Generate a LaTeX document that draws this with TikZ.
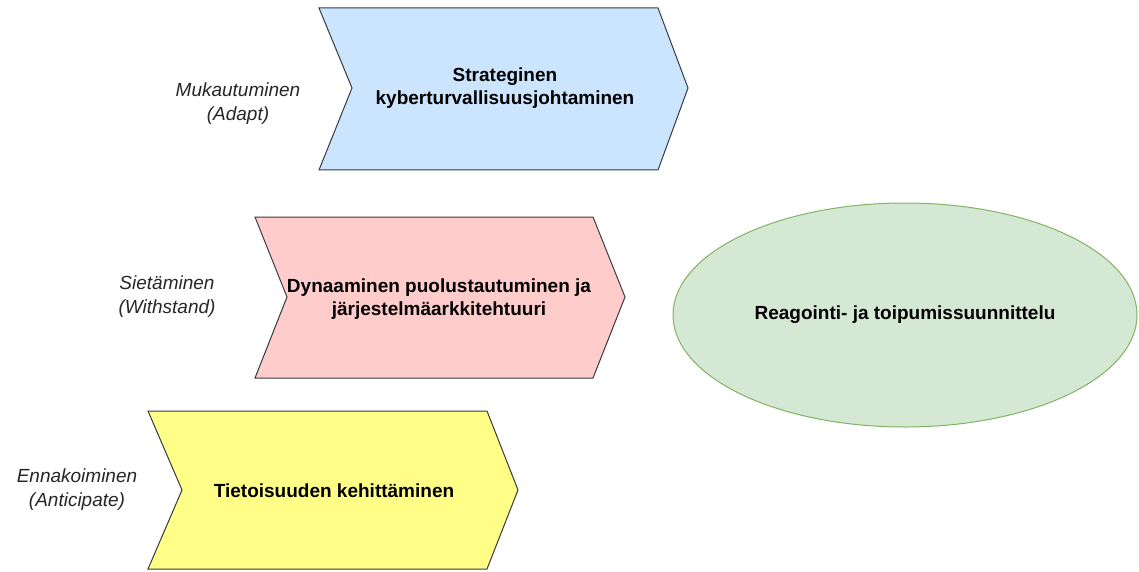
\documentclass[tikz,border=0pt]{standalone}
\usepackage{fontspec}
\setmainfont{Liberation Sans}
\usetikzlibrary{shapes.geometric}
\definecolor{cblue}{HTML}{CCE5FF}
\definecolor{cpink}{HTML}{FFCCCC}
\definecolor{cyellow}{HTML}{FFFF88}
\definecolor{cgreen}{HTML}{D5E8D4}
\definecolor{cgreenline}{HTML}{82B366}
\definecolor{cline}{HTML}{36393D}
\begin{document}
\begin{tikzpicture}[x=1pt,y=-1pt,
  chev/.style={draw=cline, line width=1pt, line join=miter},
  boldtext/.style={font=\fontsize{19}{23}\selectfont\bfseries, align=center, text=black, inner sep=0pt},
  sidelabel/.style={font=\fontsize{19}{24}\selectfont\itshape, align=center, text=black!85, inner sep=0pt}]
\useasboundingbox (0,0) rectangle (1139,572);
% blue chevron
\path[chev, fill=cblue] (319,8) -- (658,8) -- (688,88) -- (658,170) -- (319,170) -- (352,88) -- cycle;
\node[boldtext] (strat) at (505,88) {Strateginen\\kyberturvallisuusjohtaminen};
% pink chevron
\path[chev, fill=cpink] (255,217) -- (593,217) -- (625,297) -- (593,378) -- (255,378) -- (287,297) -- cycle;
\node[boldtext] (dyn) at (439,299) {Dynaaminen puolustautuminen ja\\järjestelmäarkkitehtuuri};
% yellow chevron
\path[chev, fill=cyellow] (148,411) -- (487,411) -- (518,490) -- (487,569) -- (148,569) -- (182,490) -- cycle;
\node[boldtext] (tiet) at (334,491) {Tietoisuuden kehittäminen};
% ellipse
\node[draw=cgreenline, fill=cgreen, line width=1pt, ellipse, minimum width=464pt, minimum height=224pt, boldtext] (reag) at (905,315) {Reagointi- ja toipumissuunnittelu};
% side labels
\node[sidelabel] (adapt) at (238,104) {Mukautuminen\\(Adapt)};
\node[sidelabel] (with) at (167,297) {Sietäminen\\(Withstand)};
\node[sidelabel] (anti) at (77,490) {Ennakoiminen\\(Anticipate)};
\end{tikzpicture}
\end{document}
